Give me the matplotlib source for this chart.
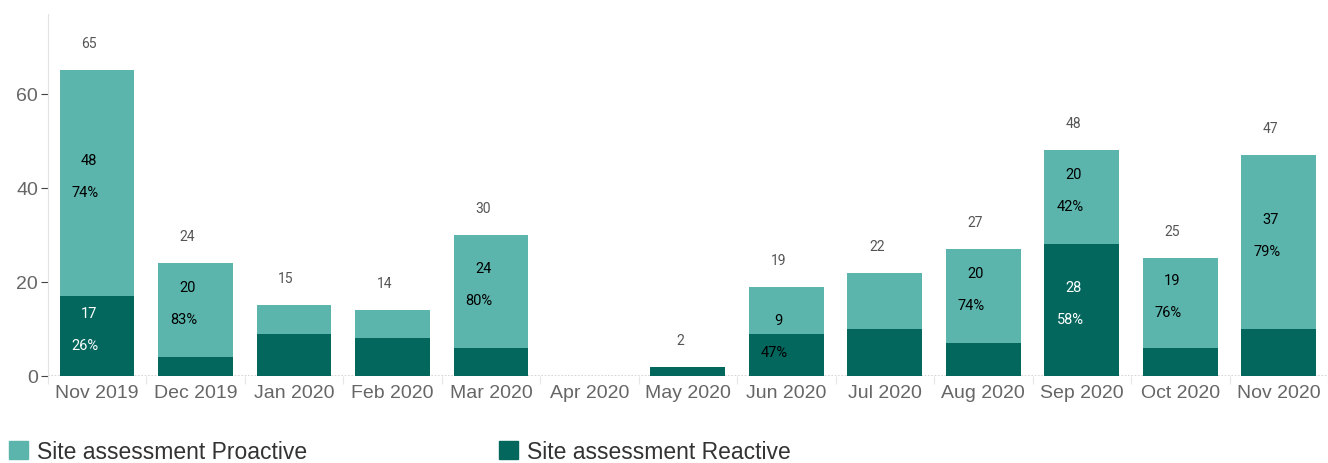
import numpy as np
import matplotlib
matplotlib.use('Agg')
import matplotlib.pyplot as plt
from matplotlib.patches import Patch

# -- data --------------------------------------------------------------
months = ['Nov 2019', 'Dec 2019', 'Jan 2020', 'Feb 2020', 'Mar 2020', 'Apr 2020',
          'May 2020', 'Jun 2020', 'Jul 2020', 'Aug 2020', 'Sep 2020', 'Oct 2020', 'Nov 2020']
reactive = [17, 4, 9, 8, 6, 0, 2, 9, 10, 7, 28, 6, 10]
proactive = [48, 20, 6, 6, 24, 0, 0, 10, 12, 20, 20, 19, 37]
# which segments carry a value/percent label in the original
show_reactive = [True, False, False, False, False, False, False, True, False, False, True, False, False]
show_proactive = [True, True, False, False, True, False, False, False, False, True, True, True, True]

# -- style -------------------------------------------------------------
PRO = '#5BB5AC'
REA = '#03675E'
TXT = '#666666'
FONT = ['Liberation Sans Narrow', 'Liberation Sans', 'DejaVu Sans']
LBL = ['Roboto', 'DejaVu Sans']
plt.rcParams['font.family'] = FONT

fig = plt.figure(figsize=(13.28, 4.64), dpi=100)
ax = fig.add_axes([0.036, 0.1875, 0.964, 0.78])

x = np.arange(len(months))
w = 0.76
totals = [r + p for r, p in zip(reactive, proactive)]

ax.bar(x, reactive, w, color=REA, zorder=3)
ax.bar(x, proactive, w, bottom=reactive, color=PRO, zorder=3)

ax.set_xlim(-0.5, len(months) - 0.5)
ax.set_ylim(0, 77)

PX = 0.78 * 464 / 77  # pixels per data unit


def seg_labels(xi, lo, val, total, col):
    c = lo + val / 2
    # percent label sits a little below the centre, value above; keep off the baseline
    yp = max(c - 9 / PX, lo + 5.1) if lo == 0 else c - 9 / PX
    yv = yp + 32 / PX
    ax.text(xi - 0.08, yv, str(val), ha='center', va='center',
            fontsize=10.5, color=col, family=LBL, zorder=4)
    ax.text(xi - 0.12, yp, f'{round(100 * val / total)}%', ha='center',
            va='center', fontsize=10.5, color=col, family=LBL, zorder=4)


for i in range(len(months)):
    t = totals[i]
    if t > 0:
        ax.text(x[i] - 0.08, t + 27 / PX, str(t), ha='center', va='center',
                fontsize=10, color='#555555', family=LBL)
    if show_reactive[i]:
        seg_labels(x[i], 0, reactive[i], t, 'black' if i == 7 else 'white')
    if show_proactive[i]:
        seg_labels(x[i], reactive[i], proactive[i], t, 'black')

# axes cosmetics
for s in ['top', 'right', 'bottom']:
    ax.spines[s].set_visible(False)
ax.spines['left'].set_color('#E3E3E3')
ax.axhline(0, color='#D0D0D0', lw=1.2, ls=(0, (1, 1)), zorder=2)

ax.set_yticks([0, 20, 40, 60])
ax.tick_params(axis='y', colors='#444444', labelcolor=TXT, labelsize=14, length=5, width=0.8, pad=2)
ax.set_xticks(x)
ax.set_xticklabels(months)
ax.tick_params(axis='x', length=0, labelsize=14, labelcolor=TXT, pad=6)
ax.set_xticks(np.arange(-0.5, len(months), 1), minor=True)
ax.tick_params(axis='x', which='minor', length=6, color='#E6E6E6', width=0.8)

handles = [Patch(color=PRO, label='Site assessment Proactive'),
           Patch(color=REA, label='Site assessment Reactive')]
fig.legend(handles=handles, loc='lower left', bbox_to_anchor=(0.0, -0.02), ncol=2,
           frameon=False, handlelength=0.8, handleheight=0.8,
           handletextpad=0.4, columnspacing=8.4, labelcolor='#333333', borderaxespad=0.0,
           prop={'family': ['Liberation Sans', 'DejaVu Sans'], 'size': 16.5})

fig.savefig('out.png', dpi=100, facecolor='white')
